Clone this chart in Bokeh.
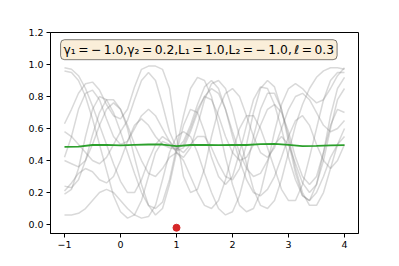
from bokeh.plotting import figure
from bokeh.models import Range1d, FixedTicker, Label
from bokeh.embed import file_html
from bokeh.resources import INLINE

# sample grid
xs = [-1 + 0.125 * i for i in range(41)]

samples = [
    [0.98,0.97,0.93,0.85,0.74,0.62,0.5,0.38,0.27,0.2,0.2,0.28,0.4,0.5,0.55,0.52,0.47,0.5,0.6,0.72,0.8,0.78,0.68,0.55,0.45,0.4,0.42,0.5,0.62,0.72,0.75,0.7,0.58,0.42,0.3,0.25,0.3,0.45,0.62,0.72,0.7],
    [0.96,0.95,0.9,0.8,0.66,0.5,0.34,0.18,0.08,0.04,0.06,0.15,0.3,0.45,0.52,0.5,0.46,0.48,0.58,0.7,0.8,0.85,0.82,0.72,0.58,0.45,0.35,0.3,0.32,0.4,0.5,0.55,0.5,0.38,0.26,0.2,0.25,0.4,0.6,0.78,0.85],
    [0.63,0.72,0.82,0.88,0.89,0.84,0.75,0.68,0.66,0.72,0.86,0.97,0.99,0.99,0.97,0.85,0.55,0.3,0.2,0.22,0.35,0.55,0.72,0.82,0.85,0.8,0.68,0.55,0.45,0.42,0.48,0.6,0.72,0.8,0.82,0.78,0.7,0.62,0.58,0.6,0.65],
    [0.42,0.55,0.72,0.82,0.84,0.78,0.66,0.55,0.5,0.52,0.6,0.68,0.72,0.68,0.6,0.52,0.45,0.42,0.48,0.62,0.78,0.88,0.9,0.85,0.72,0.55,0.38,0.22,0.12,0.1,0.15,0.28,0.45,0.62,0.75,0.85,0.92,0.96,0.98,0.98,0.97],
    [0.24,0.23,0.28,0.4,0.56,0.7,0.78,0.78,0.72,0.62,0.5,0.4,0.32,0.3,0.35,0.42,0.45,0.4,0.3,0.2,0.12,0.1,0.15,0.28,0.45,0.6,0.68,0.68,0.6,0.48,0.35,0.22,0.15,0.15,0.25,0.42,0.6,0.78,0.9,0.95,0.95],
    [0.21,0.26,0.32,0.35,0.33,0.28,0.26,0.3,0.4,0.52,0.62,0.66,0.62,0.55,0.5,0.48,0.47,0.52,0.62,0.75,0.86,0.9,0.85,0.72,0.55,0.4,0.28,0.2,0.18,0.22,0.3,0.42,0.55,0.65,0.68,0.62,0.5,0.4,0.35,0.4,0.5],
    [0.06,0.06,0.07,0.1,0.15,0.2,0.22,0.2,0.15,0.1,0.06,0.04,0.05,0.12,0.28,0.45,0.55,0.58,0.55,0.45,0.32,0.2,0.1,0.06,0.08,0.18,0.35,0.55,0.72,0.82,0.82,0.72,0.55,0.35,0.2,0.12,0.12,0.2,0.35,0.5,0.6],
    [0.4,0.38,0.36,0.4,0.5,0.62,0.72,0.76,0.72,0.6,0.42,0.25,0.12,0.06,0.1,0.25,0.45,0.62,0.72,0.7,0.58,0.42,0.3,0.25,0.3,0.45,0.62,0.78,0.86,0.85,0.75,0.6,0.42,0.28,0.18,0.15,0.2,0.3,0.42,0.5,0.55],
    [0.19,0.22,0.35,0.55,0.72,0.8,0.78,0.7,0.58,0.45,0.32,0.2,0.12,0.1,0.14,0.28,0.48,0.68,0.85,0.92,0.9,0.8,0.62,0.42,0.25,0.12,0.08,0.1,0.2,0.38,0.58,0.75,0.85,0.88,0.85,0.8,0.76,0.78,0.85,0.93,0.98],
    [0.58,0.55,0.5,0.45,0.4,0.38,0.42,0.5,0.58,0.65,0.78,0.9,0.95,0.9,0.75,0.58,0.48,0.45,0.5,0.55,0.55,0.48,0.38,0.3,0.28,0.35,0.5,0.7,0.85,0.9,0.86,0.72,0.52,0.32,0.18,0.15,0.25,0.45,0.68,0.85,0.92],
]

mean_x = [-1.0, -0.75, -0.5, -0.25, 0.0, 0.25, 0.5, 0.75, 1.0, 1.25, 1.5, 1.75, 2.0, 2.25, 2.5, 2.75, 3.0, 3.25, 3.5, 3.75, 4.0]
mean_y = [0.485, 0.487, 0.497, 0.498, 0.495, 0.498, 0.5, 0.5, 0.49, 0.497, 0.497, 0.496, 0.498, 0.497, 0.502, 0.504, 0.498, 0.49, 0.492, 0.495, 0.496]

obs_x = [1.0]
obs_y = [-0.02]

xticks = [-1, 0, 1, 2, 3, 4]
xtick_labels = ["\u22121", "0", "1", "2", "3", "4"]
yticks = [0.0, 0.2, 0.4, 0.6, 0.8, 1.0, 1.2]
ytick_labels = ["0.0", "0.2", "0.4", "0.6", "0.8", "1.0", "1.2"]

ts = "\u2009"
title_text = ("\u03b3\u2081" + ts + "=" + ts + "\u2212" + ts + "1.0,\u03b3\u2082" + ts + "=" + ts + "0.2,L\u2081" + ts + "=" + ts +
              "1.0,L\u2082" + ts + "=" + ts + "\u2212" + ts + "1.0," + ts + "\u2113" + ts + "=" + ts + "0.3")

p = figure(width=383, height=252, output_backend="svg", toolbar_location=None,
           x_range=Range1d(-1.25, 4.25), y_range=Range1d(-0.056, 1.2),
           min_border_left=50, min_border_right=25, min_border_top=32, min_border_bottom=19)
p.grid.visible = False
p.background_fill_color = "white"
p.border_fill_color = "white"
p.outline_line_color = "black"
p.outline_line_width = 1

for ys in samples:
    p.line(xs, ys, line_color="gray", line_alpha=0.3, line_width=1.5)

p.line(mean_x, mean_y, line_color="#2ca02c", line_width=1.8)
p.scatter(obs_x, obs_y, size=7, fill_color="#d62728", line_color="#d62728")

for ax, ticks, labels in ((p.xaxis[0], xticks, xtick_labels), (p.yaxis[0], yticks, ytick_labels)):
    ax.ticker = FixedTicker(ticks=ticks)
    ax.major_label_overrides = {t: l for t, l in zip(ticks, labels)}
    ax.minor_tick_line_color = None
    ax.major_tick_in = 0
    ax.major_tick_out = 4
    ax.major_label_standoff = 3
    ax.axis_line_color = "black"
    ax.major_tick_line_color = "black"
    ax.major_label_text_font = "DejaVu Sans"
    ax.major_label_text_font_size = "9.5px"
    ax.major_label_text_color = "black"

lab = Label(x=-1.07, y=1.155, text=title_text, text_align="left", text_baseline="top",
            text_font="DejaVu Sans", text_font_size="12.3px", text_color="black",
            background_fill_color="wheat", background_fill_alpha=0.5,
            border_line_color="black", border_line_alpha=0.5, border_line_width=1,
            padding=3, border_radius=4)
p.add_layout(lab)

open("out.html", "w").write(file_html(p, INLINE))
